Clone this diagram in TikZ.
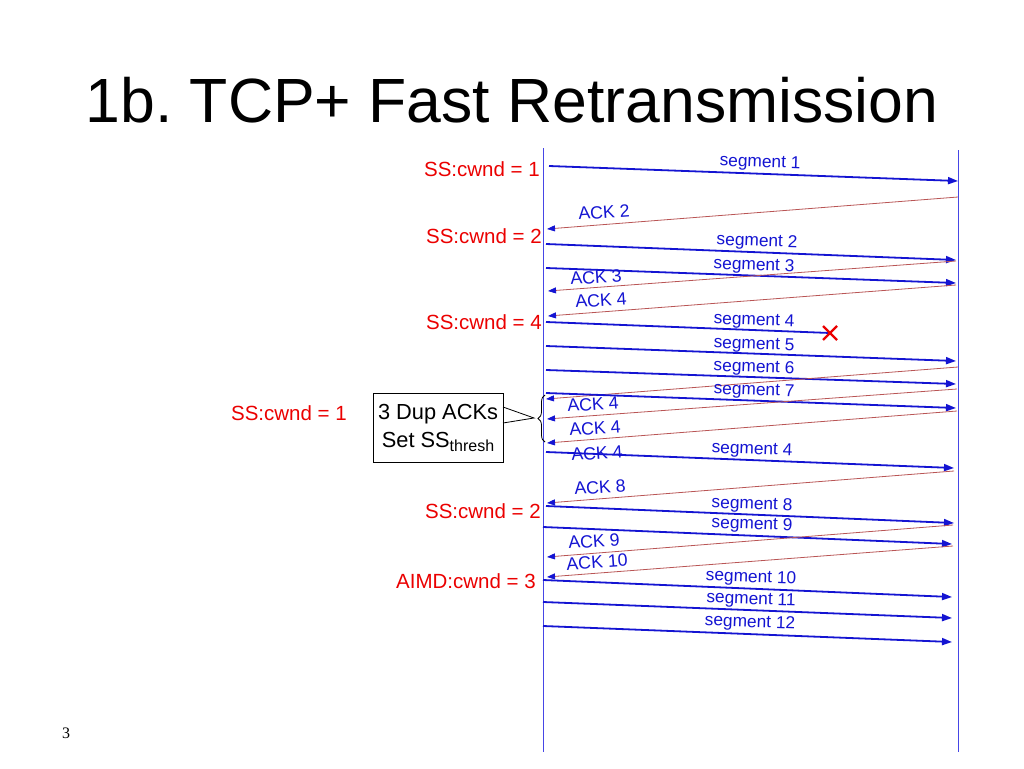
\documentclass[tikz,border=0pt]{standalone}
\usepackage{fontspec}
\setmainfont{Liberation Sans}
\newfontfamily\timesf{Liberation Serif}
\usetikzlibrary{arrows.meta,decorations.pathreplacing,calc}
\frenchspacing
\definecolor{segblue}{RGB}{20,20,210}
\definecolor{ackred}{RGB}{185,85,85}
\definecolor{lblred}{RGB}{235,0,0}
\definecolor{lineblue}{RGB}{70,70,230}
\tikzset{
  seg/.style={segblue, line width=1.8pt, -{Triangle[length=10pt,width=7pt]}},
  ack/.style={ackred, line width=0.8pt, -{Triangle[length=8pt,width=6pt,color=segblue]}},
  seglbl/.style={text=segblue, font=\fontsize{17.3}{17}\selectfont, inner sep=0pt, rotate=-2},
  acklbl/.style={text=segblue, font=\fontsize{17.8}{17}\selectfont, inner sep=0pt, rotate=4},
  cw/.style={text=lblred, font=\fontsize{20.5}{20}\selectfont, anchor=east, inner sep=0pt},
  life/.style={lineblue, line width=0.8pt},
}
\begin{document}
\begin{tikzpicture}[x=1pt,y=-1pt]
\useasboundingbox[fill=white] (0,0) rectangle (1024,768);
% title
\node[anchor=base, font=\fontsize{62.5}{63}\selectfont, inner sep=0pt] (title) at (512,122) {1b. TCP+ Fast Retransmission};
\node[font=\timesf\fontsize{16}{16}\selectfont, inner sep=0pt] (pg) at (66,733) {3};
% lifelines
\coordinate (LT) at (543,148); \coordinate (LB) at (543,752);
\coordinate (RT) at (958,150); \coordinate (RB) at (958,752);
\draw[life] (LT) -- (LB);
\draw[life] (RT) -- (RB);
% cwnd labels
\node[cw] (c1) at (540,169) {SS:cwnd = 1};
\node[cw] (c2) at (542,236) {SS:cwnd = 2};
\node[cw] (c4) at (542,322) {SS:cwnd = 4};
\node[cw] (c1b) at (347,413) {SS:cwnd = 1};
\node[cw] (c2b) at (541,511) {SS:cwnd = 2};
\node[cw] (c3) at (536,581) {AIMD:cwnd = 3};
% segment 1
\coordinate (s1a) at (549,166); \coordinate (s1b) at (958,181);
\draw[seg] (s1a) -- (s1b);
\node[seglbl] (l1) at (760,163) {segment 1};
% ACK 2
\coordinate (a2a) at (958,197); \coordinate (a2b) at (547,229);
\draw[ack] (a2a) -- (a2b);
\node[acklbl] (la2) at (604,212) {ACK 2};
% segment 2
\coordinate (s2a) at (546,244); \coordinate (s2b) at (956,260);
\draw[seg] (s2a) -- (s2b);
\node[seglbl] (l2) at (757,242) {segment 2};
% segment 3
\coordinate (s3a) at (546,268); \coordinate (s3b) at (956,283);
\draw[seg] (s3a) -- (s3b);
\node[seglbl] (l3) at (754,266) {segment 3};
% ACK 3
\coordinate (a3a) at (956,261); \coordinate (a3b) at (548,291);
\draw[ack] (a3a) -- (a3b);
\node[acklbl] (la3) at (596,277) {ACK 3};
% ACK 4
\coordinate (a4a) at (956,285); \coordinate (a4b) at (548,316);
\draw[ack] (a4a) -- (a4b);
\node[acklbl] (la4) at (601,300) {ACK 4};
% segment 4 (lost)
\coordinate (s4a) at (546,322); \coordinate (lost) at (830,333);
\draw[segblue, line width=1.8pt] (s4a) -- (lost);
\node[seglbl] (l4) at (754,321) {segment 4};
\draw[lblred, line width=2.4pt] ($(lost)+(-7,-7)$) -- ($(lost)+(7,7)$);
\draw[lblred, line width=2.4pt] ($(lost)+(-7,7)$) -- ($(lost)+(7,-7)$);
% segment 5
\coordinate (s5a) at (546,346); \coordinate (s5b) at (956,361);
\draw[seg] (s5a) -- (s5b);
\node[seglbl] (l5) at (754,345) {segment 5};
% segment 6
\coordinate (s6a) at (546,370); \coordinate (s6b) at (956,384);
\draw[seg] (s6a) -- (s6b);
\node[seglbl] (l6) at (754,368) {segment 6};
% dup ACK 4 #1
\coordinate (d1a) at (958,367); \coordinate (d1b) at (546,399);
\draw[ack] (d1a) -- (d1b);
\node[acklbl] (ld1) at (593,404) {ACK 4};
% segment 7
\coordinate (s7a) at (546,393); \coordinate (s7b) at (956,408);
\draw[seg] (s7a) -- (s7b);
\node[seglbl] (l7) at (754,391) {segment 7};
% dup ACK 4 #2
\coordinate (d2a) at (957,389); \coordinate (d2b) at (547,419);
\draw[ack] (d2a) -- (d2b);
\node[acklbl] (ld2) at (595,428) {ACK 4};
% dup ACK 4 #3
\coordinate (d3a) at (957,411); \coordinate (d3b) at (547,443);
\draw[ack] (d3a) -- (d3b);
\node[acklbl] (ld3) at (597,453) {ACK 4};
% segment 4 retransmit
\coordinate (r4a) at (546,452); \coordinate (r4b) at (954,468);
\draw[seg] (r4a) -- (r4b);
\node[seglbl] (lr4) at (752,450) {segment 4};
% ACK 8
\coordinate (a8a) at (954,471); \coordinate (a8b) at (547,503);
\draw[ack] (a8a) -- (a8b);
\node[acklbl] (la8) at (600,487) {ACK 8};
% segment 8
\coordinate (s8a) at (546,506); \coordinate (s8b) at (954,523);
\draw[seg] (s8a) -- (s8b);
\node[seglbl] (l8) at (752,505) {segment 8};
% segment 9
\coordinate (s9a) at (543,527); \coordinate (s9b) at (952,544);
\draw[seg] (s9a) -- (s9b);
\node[seglbl] (l9) at (752,525) {segment 9};
% ACK 9
\coordinate (a9a) at (953,525); \coordinate (a9b) at (547,557);
\draw[ack] (a9a) -- (a9b);
\node[acklbl] (la9) at (594,541) {ACK 9};
% ACK 10
\coordinate (a10a) at (953,546); \coordinate (a10b) at (547,577);
\draw[ack] (a10a) -- (a10b);
\node[acklbl] (la10) at (597,562) {ACK 10};
% segment 10
\coordinate (s10a) at (543,580); \coordinate (s10b) at (952,597);
\draw[seg] (s10a) -- (s10b);
\node[seglbl] (l10) at (751,578) {segment 10};
% segment 11
\coordinate (s11a) at (543,602); \coordinate (s11b) at (952,618);
\draw[seg] (s11a) -- (s11b);
\node[seglbl] (l11) at (751,600) {segment 11};
% segment 12
\coordinate (s12a) at (543,626); \coordinate (s12b) at (952,642);
\draw[seg] (s12a) -- (s12b);
\node[seglbl] (l12) at (750,623) {segment 12};
% dup ACK box
\node[draw, line width=1pt, minimum width=130pt, minimum height=69pt, align=center,
      font=\fontsize{21.8}{28}\selectfont, inner sep=0pt] (box) at (438,427.5)
      {3 Dup ACKs\\Set SS\raisebox{-0.35ex}{\fontsize{16}{16}\selectfont thresh}};
\coordinate (btip) at (534,418);
\coordinate (bu) at (503,407); \coordinate (bl) at (503,423);
\draw[line width=0.8pt] (bu) -- (btip) -- (bl);
\coordinate (brb) at (545,442); \coordinate (brt) at (545,395);
\draw[line width=0.8pt, decorate, decoration={brace, amplitude=7pt}] (brb) -- (brt);
\end{tikzpicture}
\end{document}
